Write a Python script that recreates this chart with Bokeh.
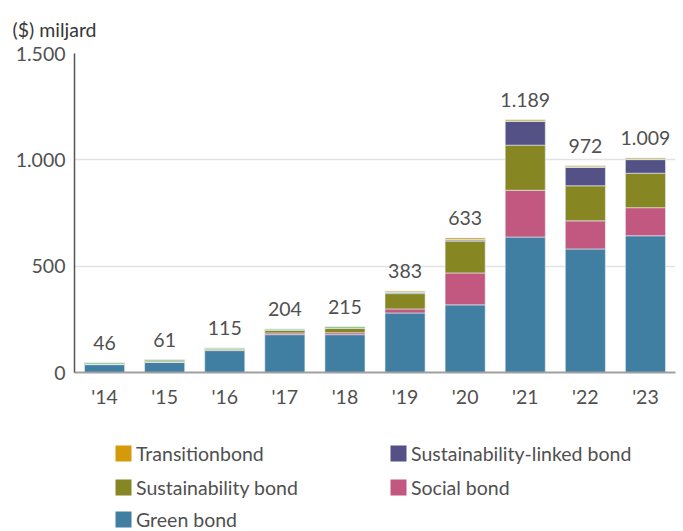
from bokeh.plotting import figure
from bokeh.layouts import column
from bokeh.models import ColumnDataSource, FactorRange, Range1d, FixedTicker
from bokeh.embed import file_html
from bokeh.resources import INLINE
from bokeh.core.properties import value

years = ["'14", "'15", "'16", "'17", "'18", "'19", "'20", "'21", "'22", "'23"]
totals = [46, 61, 115, 204, 215, 383, 633, 1189, 972, 1009]
total_labels = ["46", "61", "115", "204", "215", "383", "633", "1.189", "972", "1.009"]

green_bond = [37, 47, 103, 178, 178, 280, 318, 637, 581, 643]
social_bond = [1, 2, 2, 8, 9, 19, 150, 220, 132, 132]
sustainability_bond = [2, 6, 6, 12, 20, 72, 150, 212, 165, 162]
sustainability_linked = [0, 0, 0, 0, 0, 5, 5, 112, 86, 64]
other_bond = [6, 6, 4, 6, 8, 3, 3, 2, 3, 3]
transition_bond = [0, 0, 0, 0, 0, 4, 7, 6, 5, 5]

series_keys = ["green", "social", "sust", "slb", "other", "trans"]
series_values = [green_bond, social_bond, sustainability_bond, sustainability_linked, other_bond, transition_bond]
colors = ["#417fa2", "#c2577f", "#868623", "#535185", "#5aa94c", "#d59a0a"]

legend_labels = ["Transitionbond", "Sustainability-linked bond", "Sustainability bond", "Social bond", "Green bond"]
legend_colors = ["#d59a0a", "#535185", "#868623", "#c2577f", "#417fa2"]
legend_col = [0, 1, 0, 1, 0]
legend_row = [0, 0, 1, 1, 2]

FONT = "Lato"
TXT = "#505050"
FS = "19.5px"
W = 683
FL, FR = 74, 675  # frame left / right in page pixels

# ---- main chart
MH = 420
data = {"years": years}
for k, v in zip(series_keys, series_values):
    data[k] = v
src = ColumnDataSource(data)

p = figure(width=W, height=MH, x_range=FactorRange(*years, range_padding=0),
           y_range=Range1d(0, 1500), output_backend="svg", toolbar_location=None,
           min_border_left=FL, min_border_right=W - FR, min_border_top=53,
           min_border_bottom=MH - 372, title="($) miljard")

p.title.align = "left"
p.title.offset = -(FL - 12)
p.title.standoff = 26
p.title.text_font = FONT
p.title.text_font_size = FS
p.title.text_font_style = "normal"
p.title.text_color = "#383838"

p.vbar_stack(series_keys, x="years", width=0.667, source=src, color=colors,
             line_color="#e8eef2", line_width=0.6)

lab_src = ColumnDataSource(dict(years=years, totals=totals, labels=total_labels))
p.text(x="years", y="totals", text="labels", source=lab_src, text_align="center",
       text_baseline="bottom", y_offset=-13, text_font=value(FONT), text_font_size=FS,
       text_color=TXT)

p.outline_line_color = None
p.xgrid.grid_line_color = None
p.ygrid.grid_line_color = "#e3e3e3"
p.ygrid.grid_line_width = 1.5
p.yaxis.ticker = FixedTicker(ticks=[0, 500, 1000, 1500])
p.yaxis.major_label_overrides = {0: "0", 500: "500", 1000: "1.000", 1500: "1.500"}
p.yaxis.axis_line_color = "#555555"
p.yaxis.axis_line_width = 1.5
p.yaxis.major_tick_line_color = None
p.yaxis.minor_tick_line_color = None
p.yaxis.major_label_standoff = 3
p.xaxis.axis_line_color = "#a0a0a0"
p.xaxis.axis_line_width = 2
p.xaxis.major_tick_line_color = None
p.xaxis.minor_tick_line_color = None
p.xaxis.major_label_standoff = 6
for ax in (p.xaxis, p.yaxis):
    ax.major_label_text_font = FONT
    ax.major_label_text_font_size = FS
    ax.major_label_text_color = TXT

# ---- legend strip
LH = 531 - MH
lg = figure(width=W, height=LH, x_range=Range1d(FL, FR), y_range=Range1d(LH, 0),
            output_backend="svg", toolbar_location=None, min_border=0,
            min_border_left=FL, min_border_right=W - FR)
lg.axis.visible = False
lg.grid.visible = False
lg.outline_line_color = None
col_x = [123, 398]
row_y = [453 - MH, 487 - MH, 519 - MH]
sq_x = [col_x[c] for c in legend_col]
sq_y = [row_y[r] for r in legend_row]
tx_x = [col_x[c] + 12.5 for c in legend_col]
lsrc = ColumnDataSource(dict(sx=sq_x, sy=sq_y, tx=tx_x, lab=legend_labels, col=legend_colors))
lg.rect(x="sx", y="sy", width=16, height=16, width_units="screen", height_units="screen",
        fill_color="col", line_color=None, source=lsrc)
lg.text(x="tx", y="sy", text="lab", source=lsrc, text_baseline="middle", text_align="left",
        text_font=value(FONT), text_font_size=FS, text_color=TXT)

layout = column(p, lg, spacing=0)
open("out.html", "w").write(file_html(layout, INLINE))
